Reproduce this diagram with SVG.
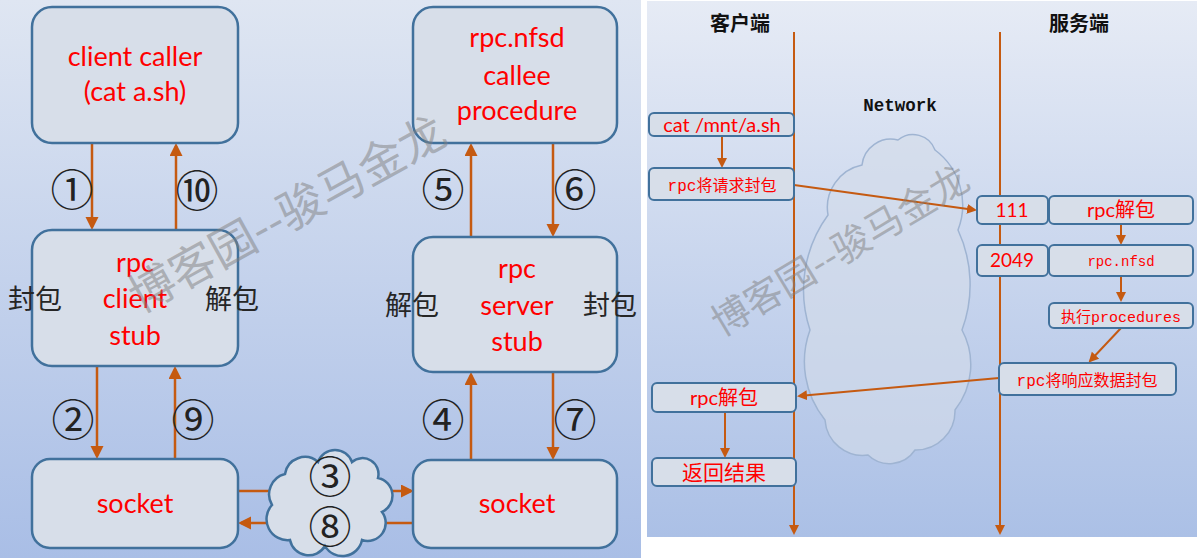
<svg xmlns="http://www.w3.org/2000/svg" width="1197" height="558" viewBox="0 0 1197 558">
<defs>
<linearGradient id="bgL" x1="0" y1="0" x2="0" y2="1"><stop offset="0" stop-color="#dfe6f2"/><stop offset="1" stop-color="#a9bee6"/></linearGradient>
<linearGradient id="bgR" x1="0" y1="0" x2="0" y2="1"><stop offset="0" stop-color="#e6ebf5"/><stop offset="1" stop-color="#abc0e6"/></linearGradient>
<marker id="ahL" markerUnits="userSpaceOnUse" markerWidth="14" markerHeight="14" refX="10" refY="6.5" orient="auto"><path d="M0,0 L13,6.5 L0,13 z" fill="#c55a11"/></marker>
<marker id="ahR" markerUnits="userSpaceOnUse" markerWidth="11" markerHeight="11" refX="8" refY="5" orient="auto"><path d="M0,0 L10,5 L0,10 z" fill="#c55a11"/></marker>
</defs>
<style>
.box{fill:#d7dee9;stroke:#41719c;stroke-width:2.5}
.sbox{fill:#d7dee9;stroke:#41719c;stroke-width:2}
.red{fill:#ff0000;font-family:Lato,"Noto Sans CJK SC",sans-serif;text-anchor:middle}
.big{font-size:27px}
.mid{font-size:20px}
.mono{font-family:"Liberation Mono","Noto Sans CJK SC",monospace}
.cn{font-family:"Noto Sans CJK SC",sans-serif}
.blk{fill:#262626;font-family:"Noto Sans CJK SC",sans-serif;font-size:27px}
.num{font-family:"Noto Sans CJK SC",sans-serif;font-size:43px;fill:#222;text-anchor:middle}
.arr{stroke:#c55a11;stroke-width:2.5;fill:none}
.arrR{stroke:#c55a11;stroke-width:2;fill:none}
.hd{font-family:"Noto Sans CJK SC",sans-serif;font-weight:bold;font-size:20px;fill:#111;text-anchor:middle}
.wm{font-family:"Noto Sans CJK SC",sans-serif;fill:#7f7f7f;fill-opacity:0.5;text-anchor:middle}
</style>
<rect x="0" y="0" width="1197" height="558" fill="#ffffff"/>
<rect x="0" y="0" width="641" height="558" fill="url(#bgL)"/>
<rect x="647" y="1" width="550" height="536" fill="url(#bgR)"/>

<g id="network-cloud">
<path d="M810,330 A127,127 0 0 1 828,215 A43.5,43.5 0 0 1 862,165 A29,29 0 0 1 898,140 A23.4,23.4 0 0 1 935,150 A68.8,68.8 0 0 1 958,230 A130,130 0 0 1 962,330 A73,73 0 0 1 955,410 A39,39 0 0 1 915,450 A30.8,30.8 0 0 1 868,455 A38,38 0 0 1 825,420 A92.6,92.6 0 0 1 810,330 Z" fill="#d3dcea" fill-opacity="0.6" stroke="#9fb4d2" stroke-width="1.5"/>
</g>

<g id="connectors">
<line class="arr" x1="92" y1="143" x2="92" y2="227" marker-end="url(#ahL)"/>
<line class="arr" x1="176" y1="230" x2="176" y2="146" marker-end="url(#ahL)"/>
<line class="arr" x1="97" y1="366" x2="97" y2="456" marker-end="url(#ahL)"/>
<line class="arr" x1="175" y1="459" x2="175" y2="369" marker-end="url(#ahL)"/>
<line class="arr" x1="471" y1="237" x2="471" y2="146" marker-end="url(#ahL)"/>
<line class="arr" x1="553" y1="143" x2="553" y2="234" marker-end="url(#ahL)"/>
<line class="arr" x1="471" y1="460" x2="471" y2="375" marker-end="url(#ahL)"/>
<line class="arr" x1="553" y1="372" x2="553" y2="457" marker-end="url(#ahL)"/>
<line class="arr" x1="238" y1="491" x2="411" y2="491" marker-end="url(#ahL)"/>
<line class="arr" x1="414" y1="523" x2="241" y2="523" marker-end="url(#ahL)"/>

<line class="arrR" x1="794" y1="32" x2="794" y2="533" marker-end="url(#ahR)"/>
<line class="arrR" x1="1000" y1="32" x2="1000" y2="533" marker-end="url(#ahR)"/>
<line class="arrR" x1="722" y1="136" x2="722" y2="166" marker-end="url(#ahR)"/>
<line class="arrR" x1="794" y1="185" x2="975" y2="210" marker-end="url(#ahR)"/>
<line class="arrR" x1="1121" y1="224" x2="1121" y2="243" marker-end="url(#ahR)"/>
<line class="arrR" x1="1121" y1="276" x2="1121" y2="300" marker-end="url(#ahR)"/>
<line class="arrR" x1="1121" y1="328" x2="1090" y2="361" marker-end="url(#ahR)"/>
<line class="arrR" x1="999" y1="378" x2="799" y2="396" marker-end="url(#ahR)"/>
<line class="arrR" x1="725" y1="412" x2="725" y2="456" marker-end="url(#ahR)"/>
</g>

<g id="client-caller">
<rect class="box" x="32" y="7" width="206" height="136" rx="20"/>
<text class="red big" x="135" y="66">client caller</text>
<text class="red big" x="135" y="101">(cat a.sh)</text>
</g>
<g id="client-stub">
<rect class="box" x="32" y="230" width="206" height="136" rx="20"/>
<text class="red big" x="135" y="272">rpc</text>
<text class="red big" x="135" y="308">client</text>
<text class="red big" x="135" y="345">stub</text>
</g>
<g id="client-socket">
<rect class="box" x="32" y="459" width="206" height="89" rx="18"/>
<text class="red big" x="135" y="513">socket</text>
</g>
<g id="callee">
<rect class="box" x="413" y="7" width="204" height="136" rx="20"/>
<text class="red big" x="517" y="47">rpc.nfsd</text>
<text class="red big" x="517" y="85">callee</text>
<text class="red big" x="517" y="120">procedure</text>
</g>
<g id="server-stub">
<rect class="box" x="413" y="237" width="204" height="135" rx="20"/>
<text class="red big" x="517" y="278">rpc</text>
<text class="red big" x="517" y="315">server</text>
<text class="red big" x="517" y="351">stub</text>
</g>
<g id="server-socket">
<rect class="box" x="413" y="460" width="204" height="88" rx="18"/>
<text class="red big" x="517" y="513">socket</text>
</g>
<g id="left-cloud">
<path d="M272,505 A21,21 0 0 1 285,474 A20,20 0 0 1 318,462 A18,18 0 0 1 352,462 A16,16 0 0 1 378,478 A18,18 0 0 1 382,512 A18,18 0 0 1 362,540 A20,20 0 0 1 325,546 A19,19 0 0 1 290,540 A21,21 0 0 1 272,505 Z" class="box"/>
</g>

<g id="left-labels">
<text class="blk" x="8" y="309">封包</text>
<text class="blk" x="205" y="309">解包</text>
<text class="blk" x="385" y="315">解包</text>
<text class="blk" x="583" y="315">封包</text>
<text class="num" x="72" y="206">①</text>
<text class="num" x="197" y="207">⑩</text>
<text class="num" x="73" y="436">②</text>
<text class="num" x="193" y="436">⑨</text>
<text class="num" x="443" y="206">⑤</text>
<text class="num" x="575" y="206">⑥</text>
<text class="num" x="443" y="436">④</text>
<text class="num" x="575" y="436">⑦</text>
<text class="num" x="330" y="493" font-size="40">③</text>
<text class="num" x="330" y="543" font-size="40">⑧</text>
</g>

<g id="right-headers">
<text class="hd" x="740" y="31">客户端</text>
<text class="hd" x="1079" y="31">服务端</text>
<text x="900" y="111" text-anchor="middle" font-family="Liberation Mono, monospace" font-weight="bold" font-size="17.5" fill="#111">Network</text>
</g>

<g id="cat-cmd">
<rect class="sbox" x="649" y="113" width="145" height="23" rx="5"/>
<text class="red mid" x="722" y="132">cat /mnt/a.sh</text>
</g>
<g id="req-pack">
<rect class="sbox" x="649" y="168" width="145" height="32" rx="5"/>
<text class="red mono" font-size="16" x="722" y="191">rpc将请求封包</text>
</g>
<g id="port-111">
<rect class="sbox" x="977" y="196" width="71" height="28" rx="5"/>
<text class="red" font-size="19" x="1012" y="217">111</text>
</g>
<g id="srv-unpack">
<rect class="sbox" x="1049" y="196" width="144" height="28" rx="5"/>
<text class="red mid" x="1121" y="217">rpc解包</text>
</g>
<g id="port-2049">
<rect class="sbox" x="977" y="245" width="71" height="31" rx="5"/>
<text class="red" font-size="19" x="1012" y="267">2049</text>
</g>
<g id="nfsd">
<rect class="sbox" x="1049" y="245" width="144" height="31" rx="5"/>
<text class="red mono" font-size="14" x="1121" y="266">rpc.nfsd</text>
</g>
<g id="exec">
<rect class="sbox" x="1049" y="303" width="144" height="25" rx="5"/>
<text class="red mono" font-size="15" x="1121" y="322">执行procedures</text>
</g>
<g id="resp-pack">
<rect class="sbox" x="999" y="363" width="177" height="32" rx="5"/>
<text class="red mono" font-size="16" x="1087" y="386">rpc将响应数据封包</text>
</g>
<g id="cli-unpack">
<rect class="sbox" x="652" y="383" width="144" height="29" rx="5"/>
<text class="red mid" x="724" y="405">rpc解包</text>
</g>
<g id="result">
<rect class="sbox" x="652" y="458" width="144" height="28" rx="5"/>
<text class="red cn" font-size="21" x="724" y="480">返回结果</text>
</g>

<g id="watermark">
<text class="wm" font-size="46" transform="translate(295,228) rotate(-29)">博客园--骏马金龙</text>
<text class="wm" font-size="38" transform="translate(847,262) rotate(-31)">博客园--骏马金龙</text>
</g>
</svg>
